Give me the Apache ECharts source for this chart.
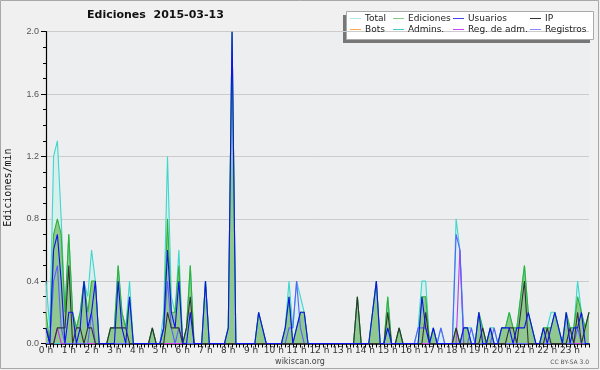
<!DOCTYPE html>
<html><head><meta charset="utf-8">
<script src="https://cdn.jsdelivr.net/npm/echarts/dist/echarts.min.js"></script>
<style>html,body{margin:0;padding:0;background:#f0f0f0}#c{width:600px;height:370px}</style>
</head><body><div id="c"></div>
<script>
// one value per 10 minutes (edits/min), 6 per hour, 00:00 .. 23:50
const hourLabels = ['0 h','1 h','2 h','3 h','4 h','5 h','6 h','7 h','8 h','9 h','10 h','11 h','12 h','13 h','14 h','15 h','16 h','17 h','18 h','19 h','20 h','21 h','22 h','23 h'];
const yTicks = [0, 0.4, 0.8, 1.2, 1.6, 2.0];
const total = [
 0.4,0.1,1.2,1.3,0.8,0.2, 0.7,0.2,0.1,0.2,0.4,0.3, 0.6,0.4,0,0,0,0.1, 0.1,0.5,0.2,0.1,0.4,0,
 0,0,0,0,0.1,0, 0,0.2,1.2,0.3,0.2,0.6, 0,0.1,0.5,0,0,0, 0.4,0,0,0,0,0,
 0.1,2.0,0,0,0,0, 0,0,0.2,0.1,0,0, 0,0,0,0.1,0.4,0.1, 0.4,0.3,0.2,0,0,0,
 0,0,0,0,0,0, 0,0,0,0,0.3,0, 0,0,0.2,0.4,0,0, 0.3,0,0,0.1,0,0,
 0,0,0.1,0.4,0.4,0, 0.1,0,0.1,0,0,0, 0.8,0.6,0.1,0.1,0.1,0, 0.2,0.1,0,0.1,0.1,0,
 0.1,0.1,0.2,0.1,0.1,0.3, 0.5,0.2,0.1,0,0,0.1, 0.1,0.2,0.2,0.1,0,0.2, 0.1,0.1,0.4,0.2,0.1,0.2
];
const ediciones = [
 0.2,0,0.7,0.8,0.7,0.2, 0.7,0.2,0.1,0.2,0.4,0.2, 0.4,0.4,0,0,0,0.1, 0.1,0.5,0.2,0.1,0.3,0,
 0,0,0,0,0.1,0, 0,0.1,0.8,0.2,0.2,0.5, 0,0.1,0.5,0,0,0, 0.4,0,0,0,0,0,
 0.1,2.0,0,0,0,0, 0,0,0.2,0.1,0,0, 0,0,0,0.1,0.3,0, 0.1,0.2,0.2,0,0,0,
 0,0,0,0,0,0, 0,0,0,0,0.3,0, 0,0,0.2,0.4,0,0, 0.3,0,0,0.1,0,0,
 0,0,0,0.3,0.3,0, 0.1,0,0,0,0,0, 0.1,0,0.1,0.1,0,0, 0.2,0.1,0,0.1,0,0,
 0.1,0.1,0.2,0.1,0.1,0.3, 0.5,0.2,0.1,0,0,0.1, 0.1,0.1,0.2,0.1,0,0.2, 0.1,0.1,0.3,0.2,0.1,0.2
];
const usuarios = [
 0.1,0,0.6,0.7,0.4,0, 0.2,0.2,0,0.1,0.4,0.1, 0.2,0.4,0,0,0,0, 0,0.4,0.1,0,0.3,0,
 0,0,0,0,0,0, 0,0.1,0.6,0.2,0.1,0.4, 0,0,0.2,0,0,0, 0.4,0,0,0,0,0,
 0.1,2.0,0,0,0,0, 0,0,0.2,0.1,0,0, 0,0,0,0.1,0.3,0, 0.1,0.2,0.2,0,0,0,
 0,0,0,0,0,0, 0,0,0,0,0,0, 0,0,0.2,0.4,0,0, 0.1,0,0,0,0,0,
 0,0,0,0.3,0.1,0, 0.1,0,0,0,0,0, 0,0,0.1,0.1,0,0, 0.2,0,0,0.1,0,0,
 0.1,0.1,0.1,0,0.1,0.1, 0.1,0.2,0.1,0,0,0.1, 0,0.1,0.2,0.1,0,0.2, 0,0.1,0.1,0.2,0,0
];
const ip = [
 0.1,0,0,0.1,0.1,0.1, 0.5,0,0.1,0.1,0,0.1, 0.1,0,0,0,0,0.1, 0.1,0.1,0.1,0.1,0,0,
 0,0,0,0,0.1,0, 0,0,0.2,0.1,0.1,0.1, 0,0.1,0.3,0,0,0, 0,0,0,0,0,0,
 0,0,0,0,0,0, 0,0,0,0,0,0, 0,0,0,0,0,0, 0,0,0,0,0,0,
 0,0,0,0,0,0, 0,0,0,0,0.3,0, 0,0,0,0,0,0, 0.2,0,0,0.1,0,0,
 0,0,0,0,0.2,0, 0,0,0,0,0,0, 0.1,0,0,0,0,0, 0,0.1,0,0,0,0,
 0,0,0.1,0.1,0,0.2, 0.4,0,0,0,0,0, 0.1,0,0,0,0,0, 0.1,0,0.2,0,0.1,0.2
];
const bots = new Array(144).fill(0);
const admins = [
 0,0,0,0,0,0, 0,0,0,0,0,0, 0,0,0,0,0,0, 0,0,0,0,0,0,
 0,0,0,0,0,0, 0,0,0,0,0,0, 0,0,0,0,0,0, 0,0,0,0,0,0,
 0,0,0,0,0,0, 0,0,0,0,0,0, 0,0,0,0,0,0, 0,0,0,0,0,0,
 0,0,0,0,0,0, 0,0,0,0,0,0, 0,0,0,0,0,0, 0.1,0,0,0,0,0,
 0,0,0,0,0,0, 0,0,0,0,0,0, 0,0,0,0,0,0, 0,0,0,0,0,0,
 0,0,0,0,0,0, 0,0,0,0,0,0, 0,0,0,0,0,0, 0,0,0,0,0,0
];
const regAdm = [
 0,0,0,0.1,0,0, 0,0,0,0,0,0, 0,0,0,0,0,0, 0,0,0,0,0,0,
 0,0,0,0,0,0, 0,0,0,0,0,0, 0,0,0,0,0,0, 0,0,0,0,0,0,
 0,0,0,0,0,0, 0,0,0,0,0,0, 0,0,0,0,0,0, 0,0,0,0,0,0,
 0,0,0,0,0,0, 0,0,0,0,0,0, 0,0,0,0,0,0, 0,0,0,0,0,0,
 0,0,0,0,0,0, 0,0,0,0,0,0, 0,0.6,0,0,0,0, 0,0,0,0,0,0,
 0,0,0,0,0,0, 0,0,0,0,0,0, 0,0,0,0,0,0, 0,0,0,0,0,0
];
const registros = [
 0,0,0.4,0.5,0.1,0, 0,0,0,0,0,0, 0.2,0,0,0,0,0, 0,0,0,0,0,0,
 0,0,0,0,0,0, 0,0.1,0.4,0.1,0,0.1, 0,0,0,0,0,0, 0,0,0,0,0,0,
 0,0,0,0,0,0, 0,0,0,0,0,0, 0,0,0,0,0.1,0.1, 0.4,0.1,0,0,0,0,
 0,0,0,0,0,0, 0,0,0,0,0,0, 0,0,0,0,0,0, 0,0,0,0,0,0,
 0,0,0.1,0.1,0.1,0, 0,0,0.1,0,0,0, 0.7,0.6,0,0,0.1,0, 0,0,0,0,0.1,0,
 0,0,0,0,0,0, 0,0,0,0,0,0, 0,0,0,0,0,0, 0,0,0.1,0,0,0
];

const toXY = arr => arr.map((v, i) => [i * 10, v]);
function line(name, arr, color, extra) {
  return Object.assign({
    name, type: 'line', data: toXY(arr), symbol: 'none', smooth: false,
    lineStyle: { color, width: 1.1 }, itemStyle: { color }
  }, extra || {});
}
const legendItems = [
  ['Total', '#aeeaea', 350, 14], ['Ediciones', '#88cc88', 393, 14], ['Usuarios', '#4444ee', 453, 14], ['IP', '#333333', 530, 14],
  ['Bots', '#ffaa44', 350, 25], ['Admins.', '#44cccc', 393, 25], ['Reg. de adm.', '#cc44ee', 453, 25], ['Registros', '#8888ff', 530, 25]
];
const chart = echarts.init(document.getElementById('c'));
chart.setOption({
  animation: false,
  backgroundColor: '#f0f0f0',
  title: { text: 'Ediciones  2015-03-13', left: 82, top: 5,
    textStyle: { fontFamily: 'DejaVu Sans', fontWeight: 'bold', fontSize: 11, color: '#111' } },
  graphic: [
    { type: 'rect', z: 0, shape: { x: 0.5, y: 0.5, width: 598, height: 368 }, style: { fill: 'none', stroke: '#a8a8a8', lineWidth: 1 } },
    { type: 'rect', z: 0, shape: { x: 343, y: 15, width: 247, height: 28 }, style: { fill: '#777' } },
    { type: 'rect', z: 0, shape: { x: 346.5, y: 11.5, width: 247, height: 28 }, style: { fill: '#fff', stroke: '#aaa', lineWidth: 1 } },
    { type: 'text', z: 5, style: { text: 'wikiscan.org', x: 300, y: 362, textAlign: 'center', textVerticalAlign: 'middle', fontFamily: 'DejaVu Sans', fontSize: 8, fill: '#444' } },
    { type: 'text', z: 5, style: { text: 'CC BY-SA 3.0', x: 589, y: 362, textAlign: 'right', textVerticalAlign: 'middle', fontFamily: 'DejaVu Sans', fontSize: 6, fill: '#555' } }
  ],
  legend: legendItems.map(([name, color, left, top]) => ({
    data: [{ name, itemStyle: { color } }], left, top, icon: 'rect', itemWidth: 11, itemHeight: 1, itemGap: 0, padding: 0,
    textStyle: { fontFamily: 'DejaVu Sans', fontSize: 9, color: '#222', padding: [0, 0, 0, -1] }, selectedMode: false
  })),
  grid: { left: 46, right: 11, top: 31.7, bottom: 26.5, containLabel: false, outerBoundsMode: 'none',
    show: true, backgroundColor: '#eceef0', borderWidth: 0 },
  xAxis: {
    type: 'value', min: 0, max: 1430, interval: 60,
    axisLine: { show: true, lineStyle: { color: '#000', width: 1.5 } },
    axisTick: { show: true, length: 4, lineStyle: { color: '#000' } },
    minorTick: { show: true, splitNumber: 6, length: 4, lineStyle: { color: '#000' } },
    splitLine: { show: false },
    axisLabel: { margin: 3, fontFamily: 'DejaVu Sans', fontSize: 9, color: '#333', showMaxLabel: false,
      formatter: v => hourLabels[v / 60] || '' }
  },
  yAxis: {
    type: 'value', min: yTicks[0], max: yTicks[yTicks.length - 1], interval: 0.4,
    name: 'Ediciones/min', nameLocation: 'middle', nameGap: 33,
    nameTextStyle: { fontFamily: 'DejaVu Sans Mono', fontSize: 10, color: '#111' },
    axisLine: { show: true, lineStyle: { color: '#000', width: 1.2 } },
    axisTick: { show: true, length: 5, lineStyle: { color: '#000' } },
    minorTick: { show: true, splitNumber: 4, length: 3, lineStyle: { color: '#000' } },
    splitLine: { show: true, lineStyle: { color: '#cccccc', width: 1 } },
    axisLabel: { margin: 7, fontFamily: 'Liberation Sans', fontSize: 9, color: '#555', formatter: v => v.toFixed(1) }
  },
  series: [
    line('Total', total, '#3fd6cc', { areaStyle: { color: '#d4eeec', opacity: 0.85 } }),
    line('Ediciones', ediciones, '#33b033', { areaStyle: { color: '#8fc98f', opacity: 1 } }),
    line('Bots', bots, '#ff9933'),
    line('Admins.', admins, '#33cccc'),
    line('Reg. de adm.', regAdm, '#cc33ee'),
    line('Registros', registros, '#5f5fff'),
    line('IP', ip, '#333333'),
    line('Usuarios', usuarios, '#1111ee')
  ]
});
</script></body></html>
